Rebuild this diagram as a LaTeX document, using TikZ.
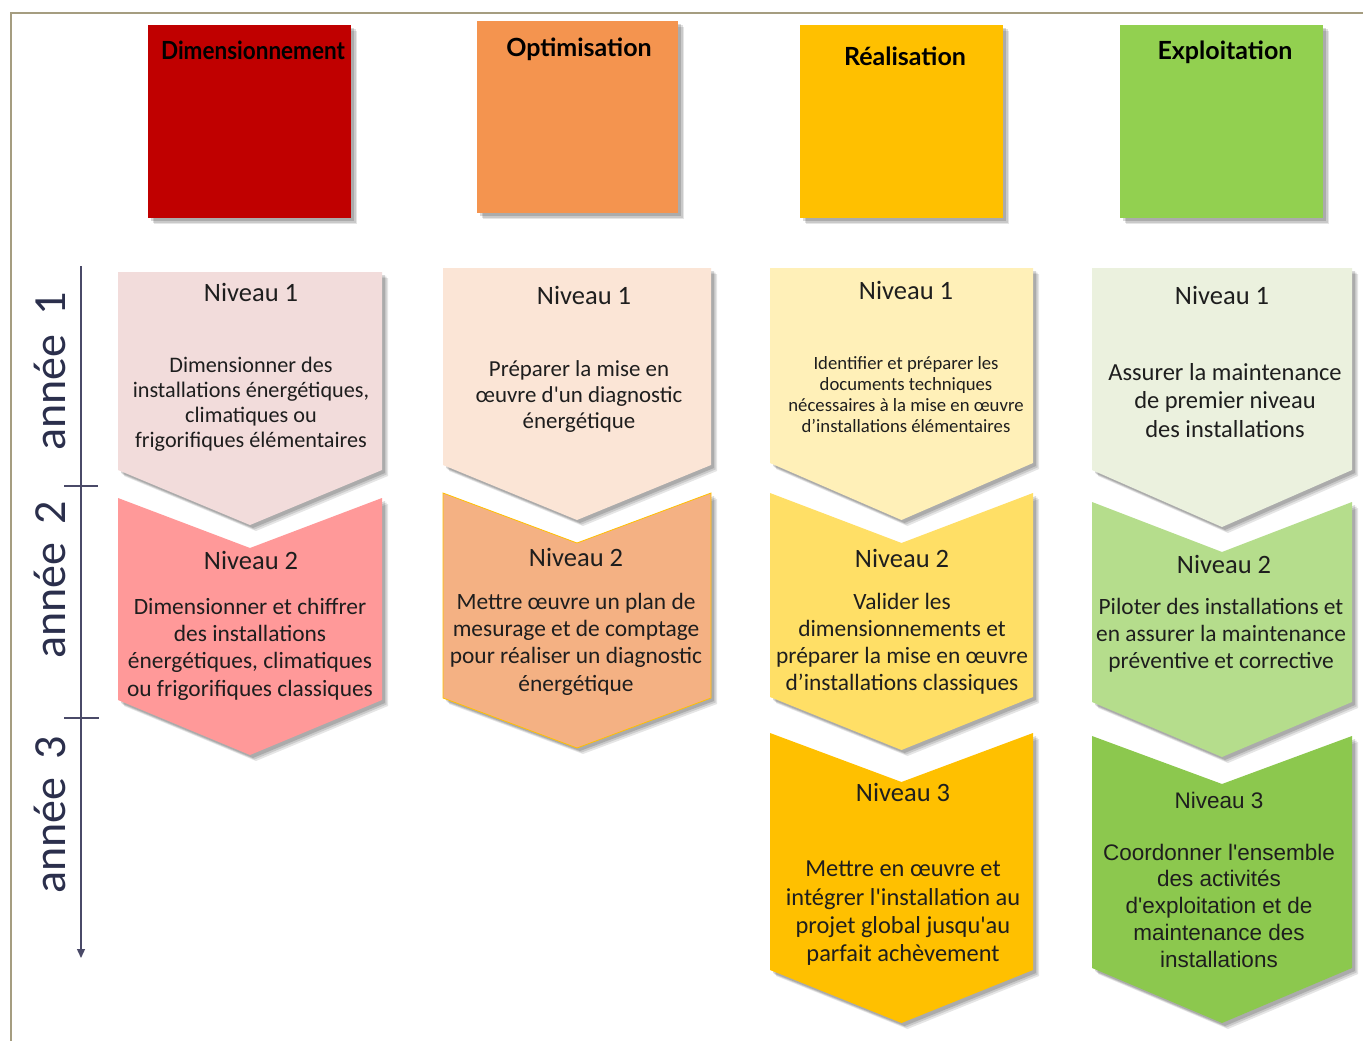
\documentclass[tikz,border=0pt]{standalone}
\usepackage{fontspec}
\setmainfont{Carlito}
\newfontfamily\calib{Carlito}
\newfontfamily\hdfont{Lato}
\newfontfamily\arialf{Liberation Sans}
\usetikzlibrary{shadows,arrows.meta}
\definecolor{frameC}{HTML}{A59D80}
\definecolor{axisC}{HTML}{4A4A68}
\definecolor{lblC}{HTML}{2B2F4C}
\definecolor{txtC}{HTML}{1E1E1E}
\definecolor{hDim}{HTML}{C00000}
\definecolor{hOpt}{HTML}{F4944F}
\definecolor{hRea}{HTML}{FFC000}
\definecolor{hExp}{HTML}{92D050}
\definecolor{aOne}{HTML}{F2DCDB}
\definecolor{aTwo}{HTML}{FF9999}
\definecolor{bOne}{HTML}{FBE5D6}
\definecolor{bTwo}{HTML}{F4B183}
\definecolor{cOne}{HTML}{FFF0B8}
\definecolor{cTwo}{HTML}{FFDF66}
\definecolor{cThree}{HTML}{FFC000}
\definecolor{dOne}{HTML}{EBF1DE}
\definecolor{dTwo}{HTML}{B5DD8C}
\definecolor{dThree}{HTML}{8CC84E}
\tikzset{
  shad/.style={
    drop shadow={shadow xshift=6pt, shadow yshift=-6pt, opacity=0.10, fill=black},
    drop shadow={shadow xshift=4.5pt, shadow yshift=-4.5pt, opacity=0.12, fill=black},
    drop shadow={shadow xshift=3pt, shadow yshift=-3pt, opacity=0.15, fill=black}},
  hdbox/.style={rectangle, draw=none, shad, inner sep=0pt},
  hdtext/.style={font=\hdfont\bfseries\fontsize{25}{28}\selectfont, text=black, inner sep=0pt},
  niv/.style={font=\calib\fontsize{26.5}{30}\selectfont, text=txtC, inner sep=0pt},
  body/.style={align=center, text=txtC, inner sep=0pt},
  axis/.style={draw=axisC, line width=1.3pt},
  yearlbl/.style={rotate=90, font=\calib\fontsize{46}{50}\selectfont, text=lblC, inner sep=0pt},
}
\newcommand\chevron[7]{%
  \path[fill=#7, shad] (#1,#3) -- ({(#1+#2)/2},#4) -- (#2,#3) -- (#2,#5) -- ({(#1+#2)/2},#6) -- (#1,#5) -- cycle;}
\begin{document}
\begin{tikzpicture}[x=1pt,y=-1pt]
\useasboundingbox (0,0) rectangle (1363,1041);
\fill[white] (0,0) rectangle (1363,1041);
% frame
\coordinate (fa) at (11,1041);
\coordinate (fb) at (11,13);
\coordinate (fc) at (1363,13);
\draw[frameC, line width=1.6pt] (fa) -- (fb) -- (fc);

% headers
\node[hdbox, fill=hDim, minimum width=203pt, minimum height=193pt] (hdim) at (249.5,121.5) {};
\node[hdbox, fill=hOpt, minimum width=201pt, minimum height=192pt] (hopt) at (577.5,117) {};
\node[hdbox, fill=hRea, minimum width=203pt, minimum height=193pt] (hrea) at (901.5,121.5) {};
\node[hdbox, fill=hExp, minimum width=203pt, minimum height=193pt] (hexp) at (1221.5,121.5) {};
\node[hdtext, xscale=0.9] (tdim) at (253,50) {Dimensionnement};
\node[hdtext] (topt) at (579,49) {Optimisation};
\node[hdtext] (trea) at (905,56) {Réalisation};
\node[hdtext] (texp) at (1225,52) {Exploitation};

% axis
\coordinate (ax0) at (81,266);
\coordinate (ax1) at (81,958);
\draw[axis, -{Triangle[length=9pt,width=8pt]}] (ax0) -- (ax1);
\coordinate (ta1) at (64,486); \coordinate (tb1) at (98,486);
\coordinate (ta2) at (64,718); \coordinate (tb2) at (99,718);
\draw[axis] (ta1) -- (tb1);
\draw[axis] (ta2) -- (tb2);
\node[yearlbl] (y1) at (50,371.5) {année\hspace{8pt} 1};
\node[yearlbl] (y2) at (50,580) {année\hspace{8pt} 2};
\node[yearlbl] (y3) at (50,815) {année\hspace{8pt} 3};

% column 1
\chevron{118}{382}{272}{272}{470}{525}{aOne}
\chevron{118}{382}{498}{548}{700}{755}{aTwo}
\node[niv] (a1n) at (251,292) {Niveau 1};
\node[body, font=\calib\fontsize{22.2}{25}\selectfont] (a1b) at (251,404) {Dimensionner des\\installations énergétiques,\\climatiques ou\\frigorifiques élémentaires};
\node[niv] (a2n) at (251,560) {Niveau 2};
\node[body, font=\calib\fontsize{23.4}{27.3}\selectfont] (a2b) at (250,649) {Dimensionner et chiffrer\\des installations\\énergétiques, climatiques\\ou frigorifiques classiques};

% column 2
\chevron{443}{711}{268}{268}{465}{520}{bOne}
\path[fill=bTwo, draw=hRea, line width=0.8pt, shad] (443,493) -- (577,543) -- (711,493) -- (711,698) -- (577,748) -- (443,698) -- cycle;
\node[niv] (b1n) at (584,295) {Niveau 1};
\node[body, font=\calib\fontsize{22.9}{26}\selectfont] (b1b) at (579,397) {Préparer la mise en\\œuvre d'un diagnostic\\énergétique};
\node[niv] (b2n) at (576,557) {Niveau 2};
\node[body, font=\calib\fontsize{23.4}{27.3}\selectfont] (b2b) at (576,644) {Mettre œuvre un plan de\\mesurage et de comptage\\pour réaliser un diagnostic\\énergétique};

% column 3
\chevron{770}{1033}{268}{268}{463}{520}{cOne}
\chevron{770}{1033}{493}{543}{697}{750}{cTwo}
\chevron{770}{1033}{733}{782}{970}{1023}{cThree}
\node[niv] (c1n) at (906,290) {Niveau 1};
\node[body, font=\calib\fontsize{18.7}{21}\selectfont] (c1b) at (906,395) {Identifier et préparer les\\documents techniques\\nécessaires à la mise en œuvre\\d’installations élémentaires};
\node[niv] (c2n) at (902,558) {Niveau 2};
\node[body, font=\calib\fontsize{23.4}{27}\selectfont] (c2b) at (902,643.5) {Valider les\\dimensionnements et\\préparer la mise en œuvre\\d’installations classiques};
\node[niv] (c3n) at (903,792) {Niveau 3};
\node[body, font=\calib\fontsize{24.4}{28.3}\selectfont] (c3b) at (903,913.5) {Mettre en œuvre et\\intégrer l'installation au\\projet global jusqu'au\\parfait achèvement};

% column 4
\chevron{1092}{1352}{268}{268}{470}{527}{dOne}
\chevron{1092}{1352}{502}{552}{702}{757}{dTwo}
\chevron{1092}{1352}{736}{784}{968}{1023}{dThree}
\node[niv] (d1n) at (1222,295) {Niveau 1};
\node[body, font=\calib\fontsize{24.5}{28.5}\selectfont] (d1b) at (1225,400.5) {Assurer la maintenance\\de premier niveau\\des installations};
\node[niv] (d2n) at (1224,564) {Niveau 2};
\node[body, font=\calib\fontsize{23.4}{27}\selectfont] (d2b) at (1221,635) {Piloter des installations et\\en assurer la maintenance\\préventive et corrective};
\node[niv, font=\arialf\fontsize{22.5}{26}\selectfont] (d3n) at (1219,800) {Niveau 3};
\node[body, font=\arialf\fontsize{22.5}{26.75}\selectfont] (d3b) at (1219,905.5) {Coordonner l'ensemble\\des activités\\d'exploitation et de\\maintenance des\\installations};
\end{tikzpicture}
\end{document}
